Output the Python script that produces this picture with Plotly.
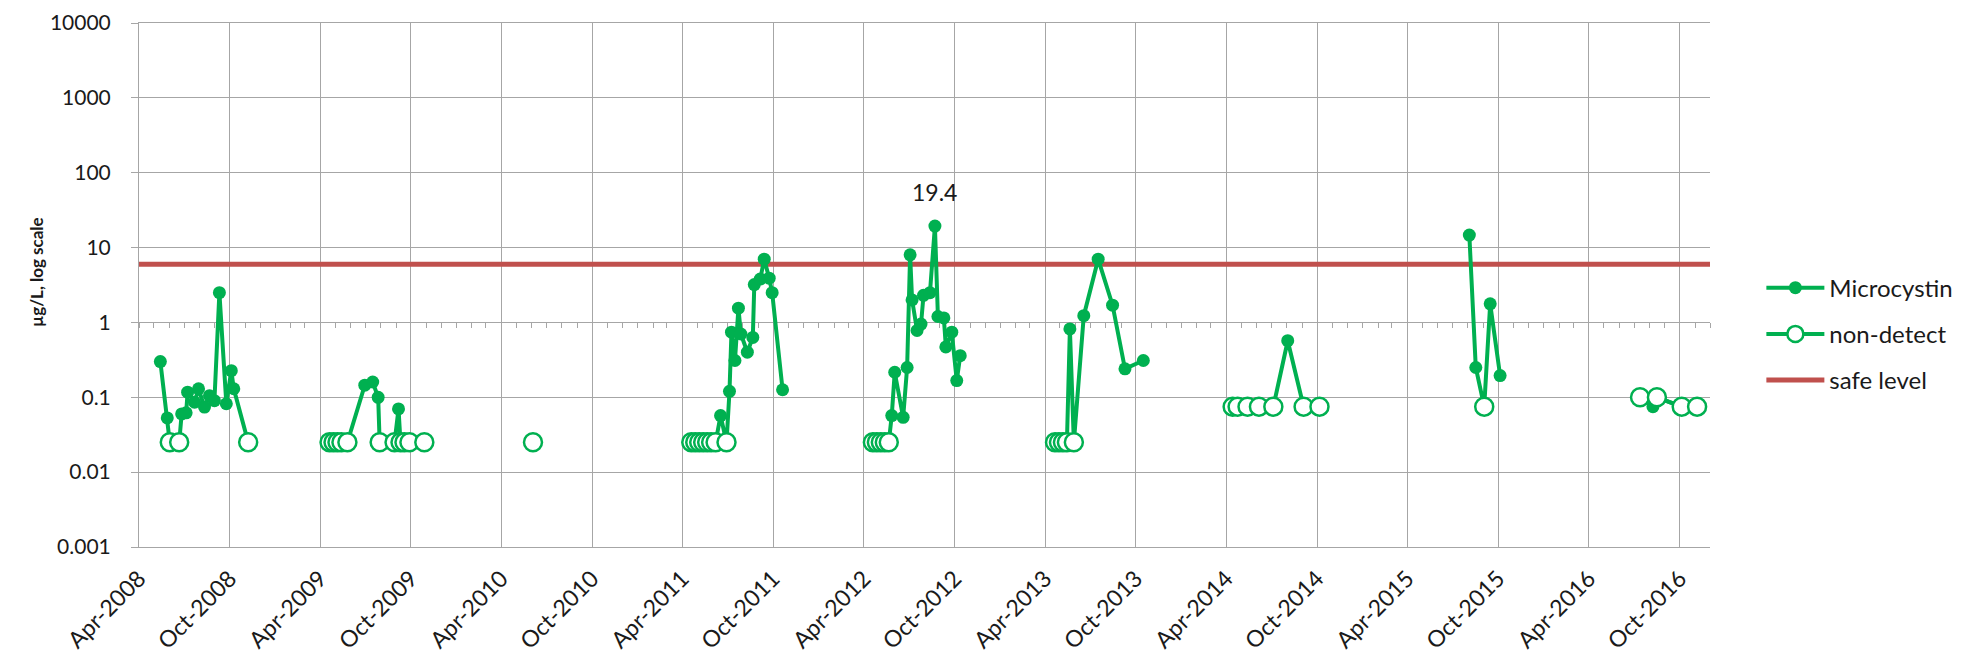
import math
import pandas as pd
import plotly.graph_objects as go

# ---------------- data ----------------
sample_dates = [
    # 2008
    "2008-05-14", "2008-05-28", "2008-06-02", "2008-06-21", "2008-06-26", "2008-07-05",
    "2008-07-08", "2008-07-22", "2008-07-30", "2008-08-11", "2008-08-21", "2008-08-31",
    "2008-09-10", "2008-09-24", "2008-10-04", "2008-10-09", "2008-11-07",
    # 2009
    "2009-04-20", "2009-04-28", "2009-05-06", "2009-05-14", "2009-05-26", "2009-06-30",
    "2009-07-16", "2009-07-27", "2009-07-30", "2009-08-29", "2009-09-06", "2009-09-10",
    "2009-09-18", "2009-09-28", "2009-10-28",
    # 2010
    "2010-06-04",
    # 2011
    "2011-04-19", "2011-04-27", "2011-05-05", "2011-05-13", "2011-05-21", "2011-05-29",
    "2011-06-07", "2011-06-17", "2011-06-29", "2011-07-05", "2011-07-09", "2011-07-16",
    "2011-07-23", "2011-07-28", "2011-08-10", "2011-08-21", "2011-08-24", "2011-09-05",
    "2011-09-13", "2011-09-23", "2011-09-29", "2011-10-20",
    # 2012
    "2012-04-19", "2012-04-27", "2012-05-05", "2012-05-13", "2012-05-21", "2012-05-27",
    "2012-06-02", "2012-06-19", "2012-06-27", "2012-07-03", "2012-07-07", "2012-07-17",
    "2012-07-25", "2012-07-30", "2012-08-12", "2012-08-22", "2012-08-28", "2012-09-09",
    "2012-09-13", "2012-09-25", "2012-10-05", "2012-10-12",
    # 2013
    "2013-04-21", "2013-04-29", "2013-05-07", "2013-05-15", "2013-05-21", "2013-05-29",
    "2013-06-18", "2013-07-17", "2013-08-15", "2013-09-09", "2013-10-16",
    # 2014
    "2014-04-14", "2014-04-24", "2014-05-14", "2014-06-06", "2014-07-05", "2014-08-03",
    "2014-09-04", "2014-10-06",
    # 2015
    "2015-08-04", "2015-08-17", "2015-09-03", "2015-09-15", "2015-10-05",
    # 2016
    "2016-07-13", "2016-08-08", "2016-08-16", "2016-10-05", "2016-11-05",
]

microcystin_ugL = [
    # 2008
    0.30, 0.053, 0.025, 0.025, 0.06, 0.062, 0.117, 0.086, 0.13, 0.074, 0.105, 0.09,
    2.5, 0.082, 0.227, 0.13, 0.025,
    # 2009
    0.025, 0.025, 0.025, 0.025, 0.025, 0.145, 0.16, 0.10, 0.025, 0.025, 0.07, 0.025,
    0.025, 0.025, 0.025,
    # 2010
    0.025,
    # 2011
    0.025, 0.025, 0.025, 0.025, 0.025, 0.025, 0.025, 0.057, 0.025, 0.12, 0.74, 0.31,
    1.55, 0.7, 0.4, 0.63, 3.2, 3.8, 7.0, 3.9, 2.5, 0.126,
    # 2012
    0.025, 0.025, 0.025, 0.025, 0.025, 0.057, 0.216, 0.054, 0.25, 8.0, 2.0, 0.78,
    0.95, 2.3, 2.5, 19.4, 1.2, 1.15, 0.47, 0.74, 0.167, 0.36,
    # 2013
    0.025, 0.025, 0.025, 0.025, 0.82, 0.025, 1.23, 7.0, 1.7, 0.24, 0.31,
    # 2014
    0.075, 0.075, 0.075, 0.075, 0.075, 0.57, 0.075, 0.075,
    # 2015
    14.7, 0.25, 0.075, 1.77, 0.195,
    # 2016
    0.1, 0.075, 0.1, 0.075, 0.075,
]

non_detect_flag = [
    # 2008
    0, 0, 1, 1, 0, 0, 0, 0, 0, 0, 0, 0, 0, 0, 0, 0, 1,
    # 2009
    1, 1, 1, 1, 1, 0, 0, 0, 1, 1, 0, 1, 1, 1, 1,
    # 2010
    1,
    # 2011
    1, 1, 1, 1, 1, 1, 1, 0, 1, 0, 0, 0, 0, 0, 0, 0, 0, 0, 0, 0, 0, 0,
    # 2012
    1, 1, 1, 1, 1, 0, 0, 0, 0, 0, 0, 0, 0, 0, 0, 0, 0, 0, 0, 0, 0, 0,
    # 2013
    1, 1, 1, 1, 0, 1, 0, 0, 0, 0, 0,
    # 2014
    1, 1, 1, 1, 1, 0, 1, 1,
    # 2015
    0, 0, 1, 0, 0,
    # 2016
    1, 0, 1, 1, 1,
]

safe_level_ugL = 6.0

x_tick_labels = [
    "Apr-2008", "Oct-2008", "Apr-2009", "Oct-2009", "Apr-2010", "Oct-2010",
    "Apr-2011", "Oct-2011", "Apr-2012", "Oct-2012", "Apr-2013", "Oct-2013",
    "Apr-2014", "Oct-2014", "Apr-2015", "Oct-2015", "Apr-2016", "Oct-2016",
]
y_tick_labels = ["0.001", "0.01", "0.1", "1", "10", "100", "1000", "10000"]

axis_start = "2008-04-01"
axis_end = "2016-12-01"

# ---------------- build series (gaps between sampling seasons) ----------------
dts = pd.to_datetime(sample_dates)
mx, my, ndx, ndy = [], [], [], []
prev = None
for d, v, f in zip(dts, microcystin_ugL, non_detect_flag):
    if prev is not None and (d - prev).days > 90:
        mx.append(None); my.append(None); ndx.append(None); ndy.append(None)
    mx.append(d); my.append(v)
    ndx.append(d); ndy.append(v if f else None)
    prev = d

tick_vals = [pd.to_datetime(t, format="%b-%Y") for t in x_tick_labels]
y_tick_vals = [float(t) for t in y_tick_labels]

GREEN = "#00B050"
RED = "#C0504D"
GRID = "#a6a6a6"
TXT = "#1a1a1a"
FONT = "Lato"

fig = go.Figure()

fig.add_trace(go.Scatter(
    x=[axis_start, axis_end], y=[safe_level_ugL, safe_level_ugL],
    mode="lines", name="safe level", line=dict(color=RED, width=5),
    legendrank=3, legendgroup="c", hoverinfo="skip",
))
fig.add_trace(go.Scatter(
    x=mx, y=my, mode="lines+markers", name="Microcystin",
    line=dict(color=GREEN, width=4), marker=dict(size=13, color=GREEN),
    legendrank=1, legendgroup="a", connectgaps=False,
))
fig.add_trace(go.Scatter(
    x=ndx, y=ndy, mode="lines+markers", name="non-detect",
    line=dict(color=GREEN, width=4),
    marker=dict(size=18, color="white", line=dict(color=GREEN, width=2.5)),
    legendrank=2, legendgroup="b", connectgaps=False,
))
# invisible helper trace so the monthly tick axis at y = 1 is drawn
fig.add_trace(go.Scatter(
    x=[axis_start], y=[None], xaxis="x2", yaxis="y", mode="markers",
    showlegend=False, hoverinfo="skip",
))

peak_i = max(range(len(microcystin_ugL)), key=lambda i: microcystin_ugL[i])
fig.add_annotation(
    x=dts[peak_i], y=math.log10(microcystin_ugL[peak_i]),
    text=f"{microcystin_ugL[peak_i]:.1f}", showarrow=False, yshift=34,
    font=dict(family=FONT, size=23, color=TXT),
)
fig.add_annotation(
    xref="paper", yref="paper", x=-0.0728, y=0.525,
    text="<b>µg/L, log scale</b>", textangle=-90, showarrow=False,
    font=dict(family=FONT, size=17, color=TXT),
)

fig.update_layout(
    width=1955, height=653,
    margin=dict(l=131, r=253, t=15, b=114, autoexpand=False),
    paper_bgcolor="white", plot_bgcolor="white",
    font=dict(family=FONT, size=22, color=TXT),
    showlegend=True,
    legend=dict(
        x=1.0327, y=0.537, xanchor="left", yanchor="top",
        font=dict(family=FONT, size=24, color=TXT),
        traceorder="grouped", tracegroupgap=12, itemwidth=58,
        bgcolor="rgba(0,0,0,0)",
    ),
    xaxis=dict(
        type="date", range=[axis_start, axis_end],
        tickmode="array", tickvals=tick_vals, ticktext=x_tick_labels,
        tickangle=-45, ticks="", showgrid=True, gridcolor=GRID, gridwidth=1,
        showline=True, linecolor=GRID, linewidth=1, mirror=True,
        tickfont=dict(family=FONT, size=23, color=TXT),
        ticklabelstandoff=8, layer="below traces", zeroline=False,
    ),
    xaxis2=dict(
        type="date", range=[axis_start, axis_end], overlaying="x",
        anchor="free", position=3 / 7, side="bottom",
        showgrid=False, showline=True, linecolor=GRID, linewidth=1,
        ticks="outside", ticklen=5, tickcolor=GRID, tickwidth=1,
        tick0=axis_start, dtick="M1", showticklabels=False,
        layer="below traces", zeroline=False,
    ),
    yaxis=dict(
        type="log", range=[-3, 4], tickmode="array",
        tickvals=y_tick_vals, ticktext=y_tick_labels,
        ticks="outside", ticklen=7, tickcolor=GRID, tickwidth=1,
        showgrid=True, gridcolor=GRID, gridwidth=1,
        showline=True, linecolor=GRID, linewidth=1,
        tickfont=dict(family=FONT, size=21, color=TXT),
        ticklabelstandoff=16, layer="below traces", zeroline=False,
    ),
)

fig.write_html("out.html")
